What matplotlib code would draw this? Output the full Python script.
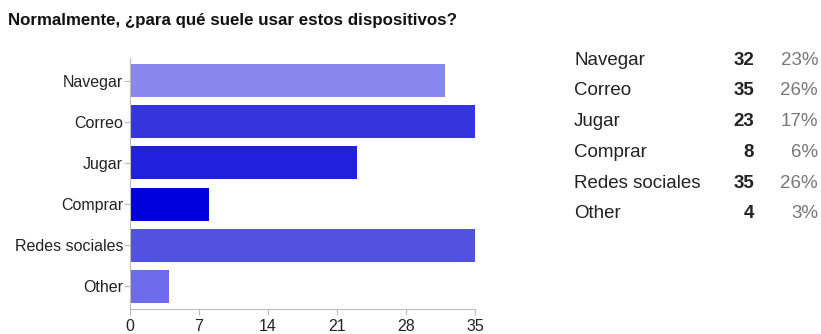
import matplotlib
matplotlib.use("Agg")
import matplotlib.pyplot as plt

categories = ["Navegar", "Correo", "Jugar", "Comprar", "Redes sociales", "Other"]
counts = [32, 35, 23, 8, 35, 4]
percents = ["23%", "26%", "17%", "6%", "26%", "3%"]
xticks = [0, 7, 14, 21, 28, 35]
colors = ["#8888ee", "#3535e0", "#2020dd", "#0000dd", "#5252e2", "#6b6bec"]

plt.rcParams['font.family'] = ['Liberation Sans', 'DejaVu Sans']

W, H = 821, 334
fig = plt.figure(figsize=(W/100, H/100), dpi=100)
ax = fig.add_axes([130/W, 1-309/H, (475-130)/W, (309-58)/H])

ypos = list(range(len(categories)))
ax.barh(ypos, counts, height=0.8, color=colors, edgecolor='none')
ax.set_ylim(len(categories)-0.5+0.05, -0.5-0.05)
ax.set_xlim(0, 35)
ax.set_yticks(ypos)
ax.set_yticklabels(categories, fontsize=11.5, color='#222222')
ax.set_xticks(xticks)
ax.set_xticklabels([str(t) for t in xticks], fontsize=11.5, color='#222222')
for s in ['top', 'right']:
    ax.spines[s].set_visible(False)
for s in ['left', 'bottom']:
    ax.spines[s].set_color('#bbbbbb')
ax.tick_params(axis='y', length=4, color='#bbbbbb', pad=1)
ax.tick_params(axis='x', length=4, color='#bbbbbb', pad=3)

fig.text(8/W, 1-20/H, "Normalmente, ¿para qué suele usar estos dispositivos?",
         fontsize=12.2, fontweight='bold', va='center', ha='left', color='#111111')

rows_base = [65, 95, 126, 157, 188, 218]
for name, c, p, y in zip(categories, counts, percents, rows_base):
    fig.text(574/W, 1-y/H, name, fontsize=13.5, va='baseline', ha='left', color='#222222')
    fig.text(754/W, 1-y/H, str(c), fontsize=13.5, fontweight='bold', va='baseline', ha='right', color='#222222')
    fig.text(818/W, 1-y/H, p, fontsize=13.5, va='baseline', ha='right', color='#777777')

fig.savefig("out.png", dpi=100)
